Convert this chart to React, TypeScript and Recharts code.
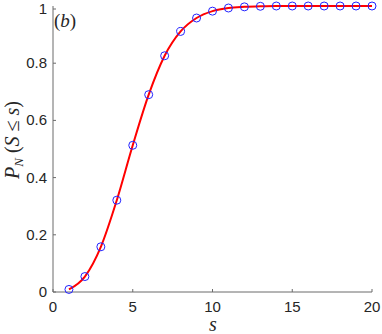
import React from 'react';
import { LineChart, Line, XAxis, YAxis, Label } from 'recharts';

// cumulative probability P_N(S <= s) for s = 1..20
const sValues = [1, 2, 3, 4, 5, 6, 7, 8, 9, 10, 11, 12, 13, 14, 15, 16, 17, 18, 19, 20];
const probValues = [
  0.009, 0.054, 0.158, 0.321, 0.513, 0.69, 0.826, 0.911, 0.958, 0.982,
  0.993, 0.997, 0.999, 1, 1, 1, 1, 1, 1, 1,
];
const xTicks = [0, 5, 10, 15, 20];
const yTicks = [0, 0.2, 0.4, 0.6, 0.8, 1];

const chartData = sValues.map((s, i) => ({ s, p: probValues[i] }));

const AXIS = '#6b6b6b';
const TEXT = '#262626';
const SANS = '"Liberation Sans", Arial, sans-serif';
const SERIF = '"Liberation Serif", "Times New Roman", serif';
const TICK_LEN = 3;

const fmtY = (v: number) => (v === 0 || v === 1 ? String(v) : v.toFixed(1));

const BottomTick = (props: any) => {
  const { x, y, payload } = props;
  return (
    <g>
      <line x1={x} y1={y} x2={x} y2={y - TICK_LEN} stroke={AXIS} />
      <text x={x} y={y + 20} textAnchor="middle" fill={TEXT} fontSize={15} fontFamily={SANS}>
        {payload.value}
      </text>
    </g>
  );
};

const TopTick = (props: any) => {
  const { x, y } = props;
  return <line x1={x} y1={y} x2={x} y2={y + TICK_LEN} stroke={AXIS} />;
};

const LeftTick = (props: any) => {
  const { x, y, payload } = props;
  return (
    <g>
      <line x1={x} y1={y} x2={x + TICK_LEN} y2={y} stroke={AXIS} />
      <text x={x - 6} y={y + 5} textAnchor="end" fill={TEXT} fontSize={15} fontFamily={SANS}>
        {fmtY(payload.value)}
      </text>
    </g>
  );
};

const RightTick = (props: any) => {
  const { x, y } = props;
  return <line x1={x} y1={y} x2={x - TICK_LEN} y2={y} stroke={AXIS} />;
};

const Marker = (props: any) => {
  const { cx, cy, index } = props;
  return <circle key={index} cx={cx} cy={cy} r={4} fill="none" stroke="#2222ff" strokeWidth={1} />;
};

const YLabel = () => (
  <text
    transform="translate(19,140) rotate(-90)"
    textAnchor="middle"
    fill={TEXT}
    fontSize={20}
    fontFamily={SERIF}
  >
    <tspan fontStyle="italic">P</tspan>
    <tspan fontStyle="italic" fontSize={13} dy={4}>N</tspan>
    <tspan dy={-4}> (</tspan>
    <tspan fontStyle="italic">S</tspan>
    <tspan> ≤ </tspan>
    <tspan fontStyle="italic">s</tspan>
    <tspan>)</tspan>
  </text>
);

const App: React.FC = () => {
  return (
    <div style={{ position: 'absolute', left: 0, top: 0, background: '#fff' }}>
      <LineChart
        width={382}
        height={334}
        data={chartData}
        margin={{ top: 6, right: 10, left: 0, bottom: 0 }}
      >
        <XAxis
          dataKey="s"
          type="number"
          domain={[0, 20]}
          ticks={xTicks}
          height={42}
          tickSize={0}
          tickMargin={0}
          axisLine={{ stroke: AXIS }}
          tickLine={false}
          tick={<BottomTick />}
        >
          <Label
            content={() => (
              <text x={213} y={331} textAnchor="middle" fill={TEXT} fontSize={20} fontStyle="italic" fontFamily={SERIF}>
                s
              </text>
            )}
          />
        </XAxis>
        <XAxis
          xAxisId="top"
          orientation="top"
          dataKey="s"
          type="number"
          domain={[0, 20]}
          ticks={xTicks}
          height={0}
          tickSize={0}
          tickMargin={0}
          axisLine={{ stroke: AXIS }}
          tickLine={false}
          tick={<TopTick />}
        />
        <YAxis
          type="number"
          domain={[0, 1]}
          ticks={yTicks}
          width={53}
          tickSize={0}
          tickMargin={0}
          axisLine={{ stroke: AXIS }}
          tickLine={false}
          tick={<LeftTick />}
        >
          <Label content={() => <YLabel />} />
        </YAxis>
        <YAxis
          yAxisId="right"
          orientation="right"
          type="number"
          domain={[0, 1]}
          ticks={yTicks}
          width={0}
          tickSize={0}
          tickMargin={0}
          axisLine={{ stroke: AXIS }}
          tickLine={false}
          tick={<RightTick />}
        />
        <Line
          type="monotone"
          dataKey="p"
          stroke="#ff0000"
          strokeWidth={2}
          dot={<Marker />}
          activeDot={false}
          isAnimationActive={false}
        />
        <text x={54} y={27} fill={TEXT} fontSize={19} fontFamily={SERIF}>
          (<tspan fontStyle="italic">b</tspan>)
        </text>
      </LineChart>
    </div>
  );
};

export default App;
